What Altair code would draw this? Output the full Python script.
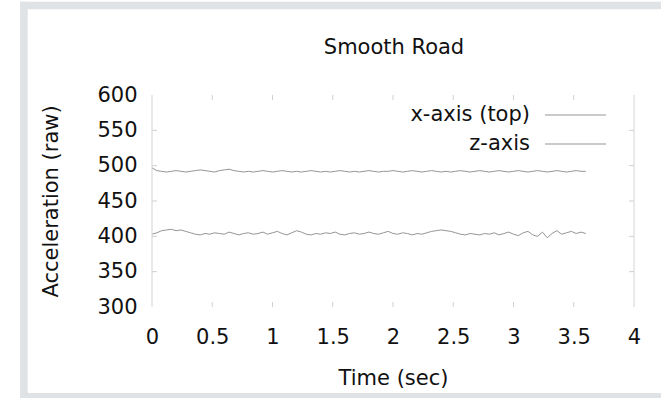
import altair as alt
import pandas as pd

# ---- data ----
SAMPLE_STEP = 0.04  # seconds between samples
x_axis_top = [
    497, 493, 492, 491, 492, 493, 492, 491, 492, 493,
    494, 493, 492, 491, 493, 494, 495, 493, 492, 491,
    492, 491, 492, 493, 492, 491, 492, 493, 492, 491,
    492, 491, 492, 493, 492, 491, 492, 491, 492, 493,
    492, 491, 492, 491, 492, 493, 492, 491, 492, 492,
    493, 492, 491, 492, 493, 492, 491, 492, 493, 492,
    491, 492, 491, 492, 493, 492, 491, 492, 493, 492,
    491, 492, 493, 492, 491, 492, 493, 492, 491, 492,
    493, 492, 491, 492, 493, 492, 491, 492, 493, 492,
    492,
]
z_axis = [
    403, 405, 408, 409, 410, 408, 409, 407, 405, 403,
    402, 404, 403, 405, 404, 403, 406, 404, 402, 404,
    405, 403, 404, 406, 403, 405, 407, 404, 402, 405,
    408, 406, 403, 402, 404, 403, 405, 404, 406, 403,
    402, 404, 405, 403, 404, 406, 404, 403, 405, 407,
    404, 403, 405, 404, 402, 404, 403, 405, 407, 408,
    409, 408, 407, 405, 403, 402, 404, 403, 402, 404,
    403, 405, 402, 404, 406, 403, 401, 405, 407, 402,
    400, 406, 398, 404, 408, 403, 405, 407, 404, 406,
    404,
]
x_ticks = [0, 0.5, 1, 1.5, 2, 2.5, 3, 3.5, 4]
y_ticks = [300, 350, 400, 450, 500, 550, 600]
series_names = ["x-axis (top)", "z-axis"]
title_text = "Smooth Road"
x_title = "Time (sec)"
y_title = "Acceleration (raw)"

W, H = 482, 212
FONT = "DejaVu Sans"
FS = 21

times = [round(i * SAMPLE_STEP, 3) for i in range(len(z_axis))]
df = pd.DataFrame({
    "t": times + times,
    "v": x_axis_top + z_axis,
    "s": [series_names[0]] * len(times) + [series_names[1]] * len(times),
})
one = pd.DataFrame({"a": [0]})

xs = alt.Scale(domain=[0, 4], nice=False, zero=False)
ys = alt.Scale(domain=[300, 600], nice=False, zero=False)

x_ax = alt.Axis(
    values=x_ticks, format="~g", grid=False, domain=False, ticks=False, zindex=1,
    labelFont=FONT, labelFontSize=FS, labelColor="#111", labelPadding=19,
    labelFlush=False, labelOverlap=False,
    title=x_title, titleFont=FONT, titleFontSize=FS, titleFontWeight="normal",
    titleColor="#111", titleX=W / 2, titleY=71, titleBaseline="middle")
y_ax = alt.Axis(
    values=y_ticks, grid=False, domain=False, ticks=False, zindex=1,
    labelFont=FONT, labelFontSize=FS, labelColor="#111", labelPadding=15,
    labelFlush=False, labelOverlap=False,
    title=y_title, titleFont=FONT, titleFontSize=FS, titleFontWeight="normal",
    titleColor="#111", titleX=-101, titleY=H / 2, titleBaseline="middle",
    titleAngle=-90)

# gray frame bands (left, top, bottom) around the image
GRAY = "#dfe3e6"
band_left = alt.Chart(one).mark_rect(color=GRAY).encode(
    x=alt.value(-132), x2=alt.value(-124.3), y=alt.value(-93.3), y2=alt.value(310))
band_top = alt.Chart(one).mark_rect(color=GRAY).encode(
    x=alt.value(-132), x2=alt.value(520), y=alt.value(-93.3), y2=alt.value(-85.7))
band_bottom = alt.Chart(one).mark_rect(color=GRAY).encode(
    x=alt.value(-132), x2=alt.value(520), y=alt.value(298), y2=alt.value(310))

lines = alt.Chart(df).mark_line(strokeWidth=1, color="#959595").encode(
    x=alt.X("t:Q", scale=xs, axis=x_ax),
    y=alt.Y("v:Q", scale=ys, axis=y_ax),
    detail="s:N",
)

border = alt.Chart(one).mark_rule(color="#d4d4d4", strokeWidth=1).encode(
    x=alt.value(0), y=alt.value(0), y2=alt.value(H))
border_r = alt.Chart(one).mark_rule(color="#d4d4d4", strokeWidth=1).encode(
    x=alt.value(W), y=alt.value(0), y2=alt.value(H))

xt = pd.DataFrame({"t": x_ticks[1:-1]})
tick_bottom = alt.Chart(xt).mark_rule(color="#cfcfcf").encode(
    x=alt.X("t:Q", scale=xs, axis=x_ax), y=alt.value(H), y2=alt.value(H - 5))
tick_top = alt.Chart(xt).mark_rule(color="#cfcfcf").encode(
    x=alt.X("t:Q", scale=xs, axis=x_ax), y=alt.value(0), y2=alt.value(5))
yt = pd.DataFrame({"v": y_ticks[1:-1]})
tick_left = alt.Chart(yt).mark_rule(color="#cfcfcf").encode(
    y=alt.Y("v:Q", scale=ys, axis=y_ax), x=alt.value(0), x2=alt.value(5))
tick_right = alt.Chart(yt).mark_rule(color="#cfcfcf").encode(
    y=alt.Y("v:Q", scale=ys, axis=y_ax), x=alt.value(W), x2=alt.value(W - 5))

title = alt.Chart(one).mark_text(
    text=title_text, font=FONT, fontSize=FS, color="#111",
    align="center", baseline="middle").encode(
    x=alt.value(W / 2 + 1), y=alt.value(-47))

leg_text1 = alt.Chart(one).mark_text(
    text=series_names[0], font=FONT, fontSize=FS, color="#111",
    align="right", baseline="middle").encode(x=alt.value(378), y=alt.value(20))
leg_text2 = alt.Chart(one).mark_text(
    text=series_names[1], font=FONT, fontSize=FS, color="#111",
    align="right", baseline="middle").encode(x=alt.value(378), y=alt.value(49))
leg_line1 = alt.Chart(one).mark_rule(color="#b8b8b8", strokeWidth=1.5).encode(
    x=alt.value(393), x2=alt.value(454), y=alt.value(20))
leg_line2 = alt.Chart(one).mark_rule(color="#b8b8b8", strokeWidth=1.5).encode(
    x=alt.value(393), x2=alt.value(454), y=alt.value(49))

chart = alt.layer(
    lines, band_left, band_top, band_bottom, border, border_r,
    tick_bottom, tick_top, tick_left, tick_right,
    title, leg_text1, leg_text2, leg_line1, leg_line2
).properties(
    width=W, height=H,
    padding={"left": 152, "top": 95, "right": 27, "bottom": 91},
    autosize=alt.AutoSizeParams(type="none"),
).configure_view(stroke=None)

chart.save("out.html", embed_options={"renderer": "svg", "actions": False})
